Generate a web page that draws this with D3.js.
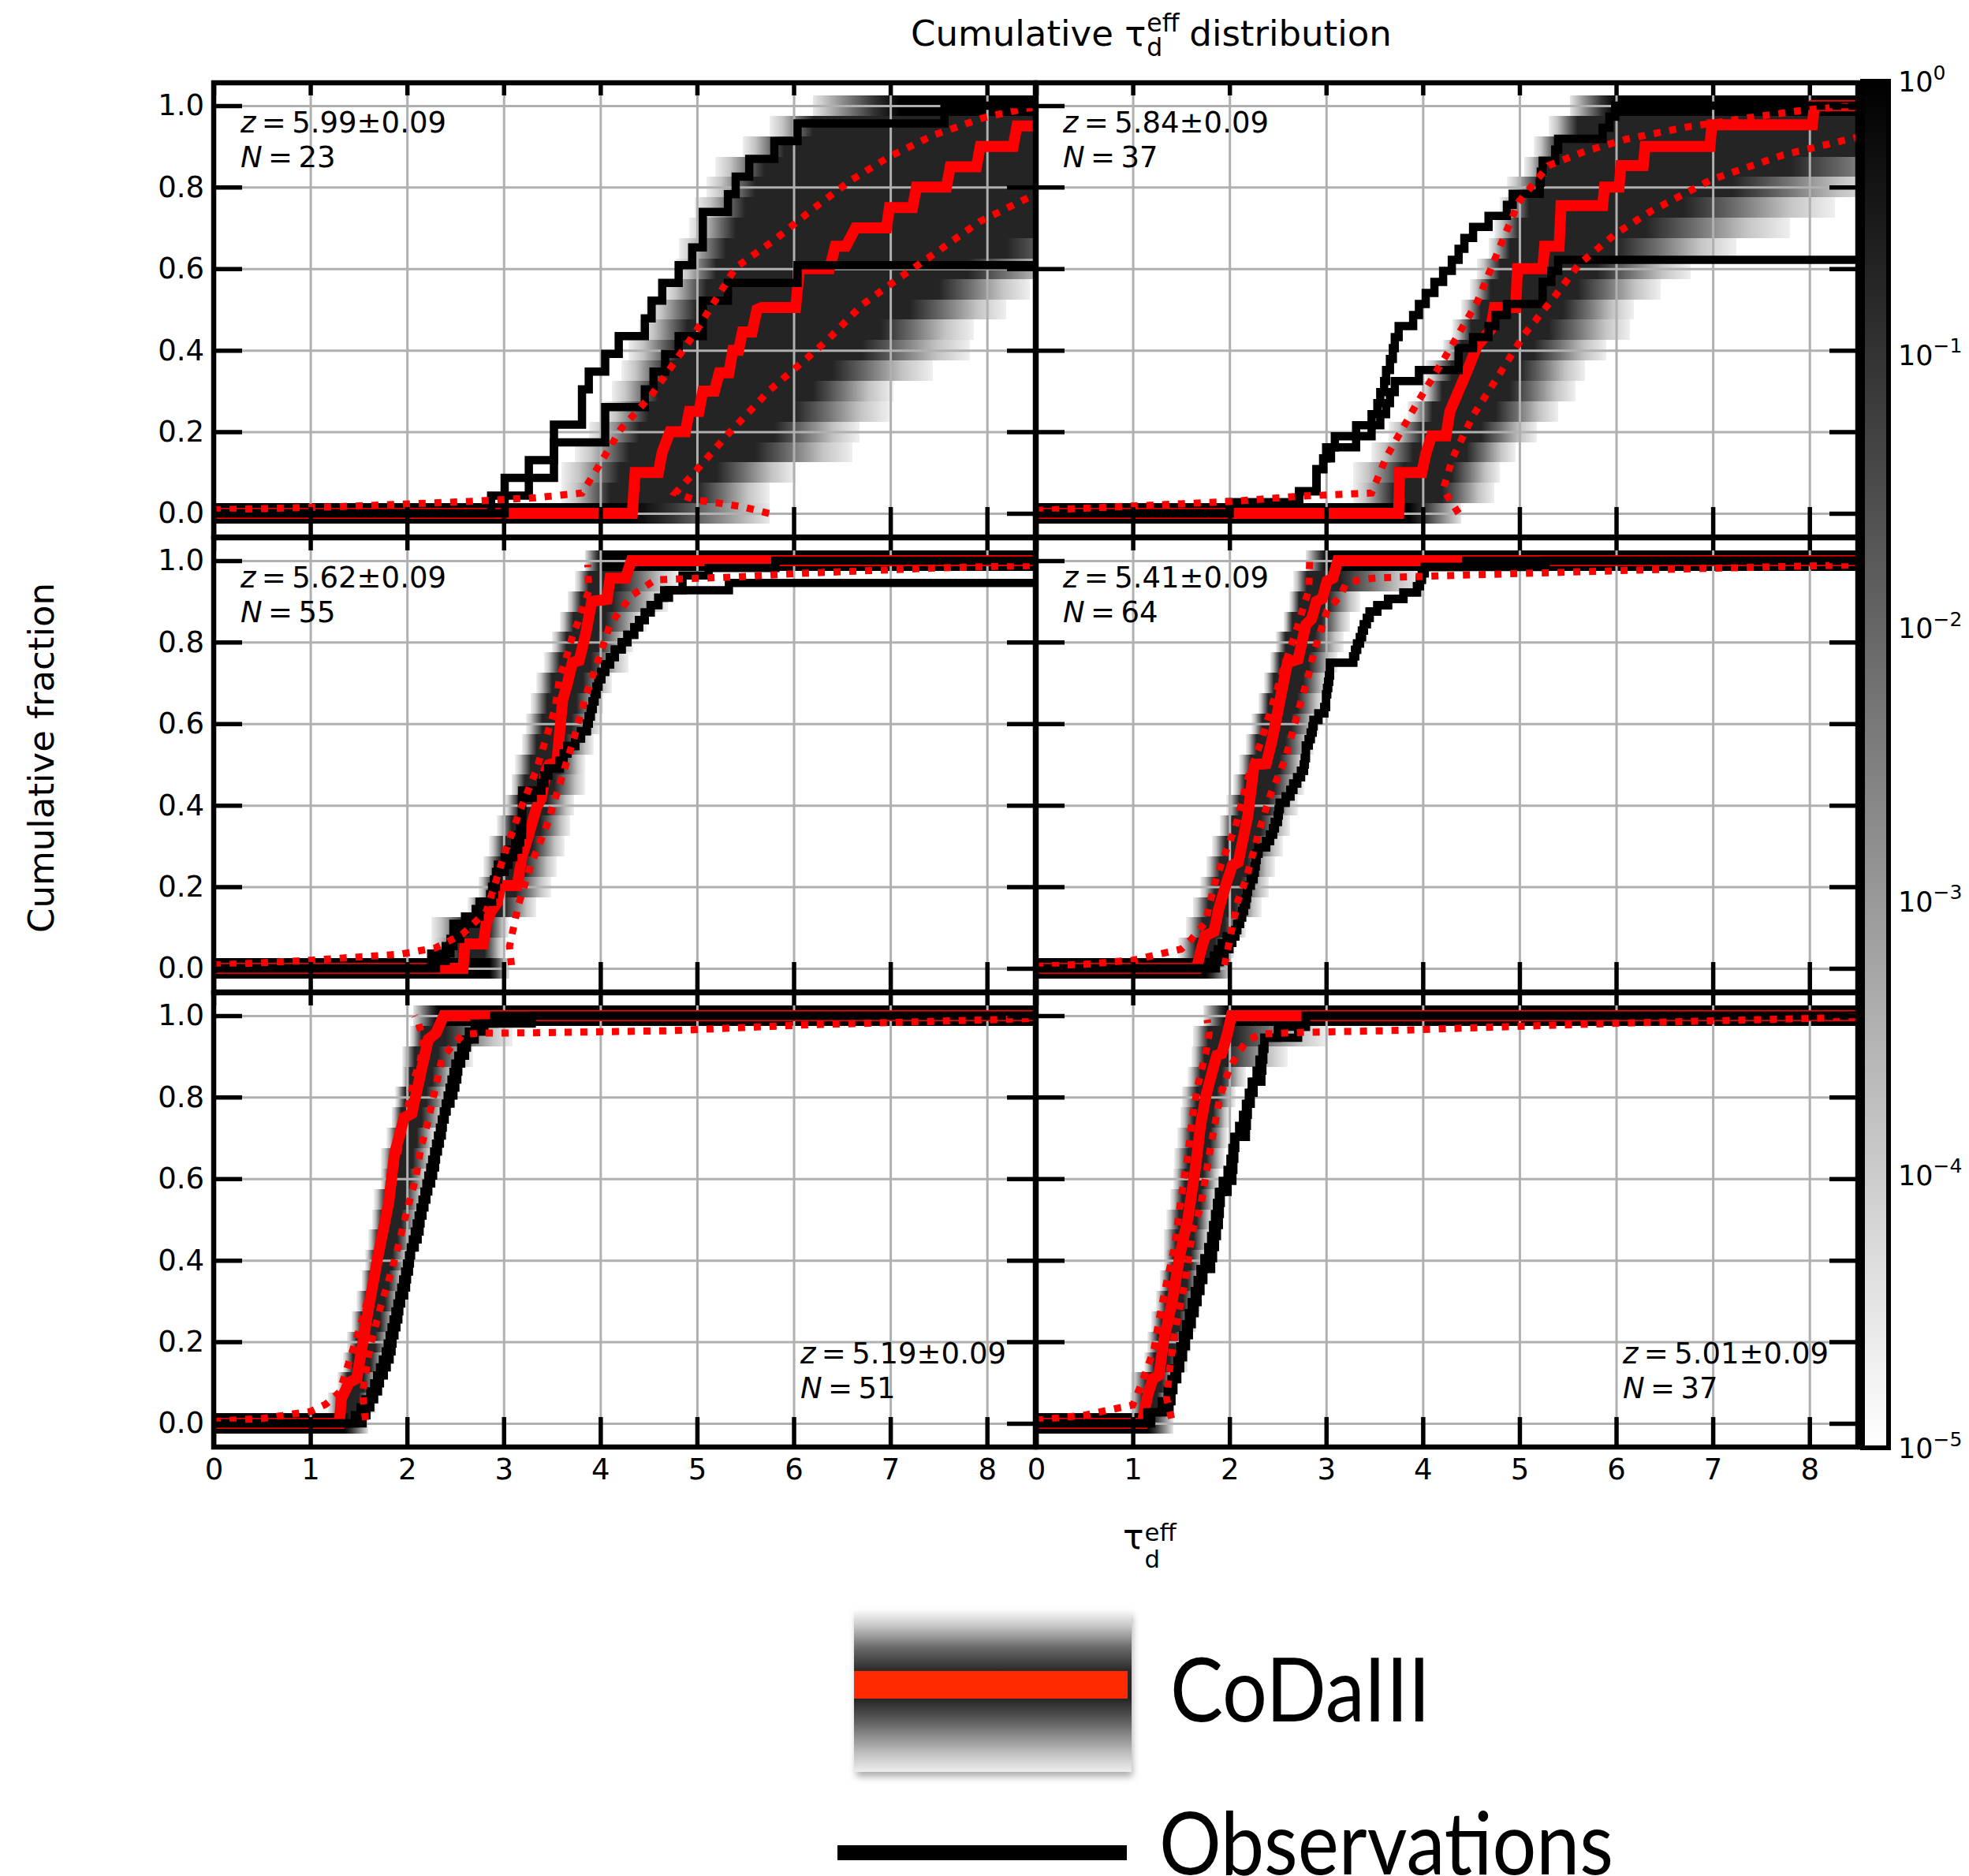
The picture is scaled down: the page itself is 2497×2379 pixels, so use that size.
<!DOCTYPE html>
<html>
<head>
<meta charset="utf-8">
<script src="https://cdn.jsdelivr.net/npm/d3@7"></script>
<style>
  body { margin: 0; background: #fff; }
  svg text { font-family: "DejaVu Sans"; fill: #000; }
</style>
</head>
<body>
<svg id="fig" width="2497" height="2379"></svg>
<script>
// ---- data ----
var xTicks = [0, 1, 2, 3, 4, 5, 6, 7, 8];
var yTicks = [0, 0.2, 0.4, 0.6, 0.8, 1.0];
var rowLevels = [0.05, 0.10, 0.15, 0.20, 0.25, 0.30, 0.35, 0.40, 0.45, 0.50,
                 0.55, 0.60, 0.65, 0.70, 0.75, 0.80, 0.85, 0.90, 0.95];
var cbTicks = [1, 1e-1, 1e-2, 1e-3, 1e-4, 1e-5];
var cbExponents = ["0", "\u22121", "\u22122", "\u22123", "\u22124", "\u22125"];
var panelZ = ["5.99", "5.84", "5.62", "5.41", "5.19", "5.01"];
var panelN = [23, 37, 55, 64, 51, 37];

// panel 1  z=5.99
var p1ObsA = [2.87, 3.01, 3.26, 3.52, 3.52, 3.81, 3.81, 3.88, 4.05, 4.19, 4.46, 4.53, 4.64, 4.81, 4.95, 5.06, 5.06, 5.32, 5.40, 5.54, 5.80, 6.04, 7.56];
var p1ObsB = [3.01, 3.26, 3.52, 3.52, 4.05, 4.05, 4.46, 4.55, 4.67, 4.81, 5.06, 5.06, 5.32, 6.04];
var p1Median = [[-0.1,0],[4.33,0],[4.36,0.10],[4.60,0.10],[4.64,0.15],[4.72,0.20],[4.88,0.20],[4.92,0.25],[5.02,0.25],[5.06,0.30],[5.18,0.30],[5.23,0.345],[5.33,0.345],[5.37,0.40],[5.43,0.40],[5.47,0.445],[5.57,0.445],[5.62,0.50],[5.67,0.505],[6.02,0.505],[6.06,0.60],[6.37,0.60],[6.43,0.655],[6.54,0.655],[6.64,0.70],[6.96,0.70],[6.99,0.75],[7.23,0.75],[7.27,0.80],[7.58,0.80],[7.62,0.85],[7.89,0.85],[7.93,0.90],[8.27,0.90],[8.31,0.95],[8.6,0.95]];
var p1DotA = [[0,0.009],[1.25,0.016],[2.63,0.029],[3.32,0.038],[3.81,0.05],[3.97,0.111],[4.21,0.206],[4.535,0.292],[4.98,0.443],[5.40,0.603],[5.81,0.672],[6.19,0.745],[6.58,0.815],[6.99,0.875],[7.44,0.927],[7.96,0.970],[8.37,0.992],[8.5,0.996]];
var p1DotB = [[5.745,0.0],[5.47,0.016],[5.23,0.025],[4.98,0.033],[4.777,0.05],[4.98,0.102],[5.30,0.189],[5.54,0.249],[5.745,0.301],[6.13,0.379],[6.37,0.43],[6.71,0.512],[7.09,0.577],[7.51,0.646],[7.92,0.715],[8.44,0.776],[8.5,0.782]];
var p1Rows = [[3.60,4.1,5.0,5.75],[3.60,4.2,5.2,6.02],[3.74,4.3,5.6,6.61],[3.88,4.4,5.8,6.68],[4.02,4.5,6.0,6.99],[4.12,4.6,6.2,7.03],[4.22,4.7,6.4,7.44],[4.29,4.8,6.7,7.82],[4.40,4.9,6.9,7.86],[4.47,5.0,7.2,8.20],[4.64,5.1,7.5,8.44],[4.78,5.2,7.8,8.9],[4.81,5.3,8.2,9.4],[4.92,5.4,8.6,9.8],[4.98,5.5,9,10],[5.10,5.6,9,10],[5.19,5.7,9,10],[5.47,5.9,9,10],[5.75,6.2,9,10]];
var p1Floor = [4.3, 5.75];
var p1Ceil = [6.2, 7.1];

// panel 2  z=5.84
var p2ObsA = [2.00, 2.72, 2.90, 2.90, 2.97, 3.05, 3.09, 3.31, 3.47, 3.53, 3.56, 3.60, 3.62, 3.66, 3.69, 3.71, 3.75, 3.90, 3.96, 4.03, 4.12, 4.21, 4.30, 4.37, 4.43, 4.52, 4.68, 4.87, 4.93, 5.21, 5.22, 5.24, 5.37, 5.40, 5.86, 5.93, 5.99];
var p2ObsB = [2.00, 2.72, 2.90, 2.90, 2.97, 3.00, 3.31, 3.47, 3.56, 3.62, 3.66, 3.71, 3.96, 4.37, 4.37, 4.52, 4.68, 4.75, 4.87, 5.24, 5.24, 5.33, 5.40];
var p2Median = [[-0.1,0],[3.75,0],[3.76,0.10],[3.99,0.10],[4.03,0.145],[4.09,0.19],[4.24,0.19],[4.28,0.25],[4.37,0.30],[4.46,0.35],[4.56,0.41],[4.70,0.45],[4.74,0.505],[4.96,0.505],[4.98,0.60],[5.24,0.60],[5.26,0.655],[5.41,0.655],[5.43,0.755],[5.86,0.755],[5.88,0.80],[6.03,0.80],[6.05,0.853],[6.28,0.853],[6.30,0.90],[6.97,0.90],[6.99,0.953],[8.03,0.953],[8.05,1.0],[8.6,1.0]];
var p2DotA = [[0,0.007],[2.00,0.029],[2.72,0.042],[3.47,0.05],[3.62,0.137],[3.93,0.266],[4.24,0.387],[4.56,0.517],[4.80,0.655],[4.99,0.763],[5.30,0.853],[5.68,0.888],[6.11,0.918],[6.74,0.948],[7.36,0.97],[7.98,0.99],[8.5,1.0]];
var p2DotB = [[4.37,0.0],[4.21,0.059],[4.31,0.137],[4.52,0.24],[4.80,0.344],[5.05,0.439],[5.37,0.534],[5.62,0.612],[5.99,0.685],[6.36,0.741],[6.99,0.819],[7.73,0.879],[8.5,0.923]];
var p2Rows = [[3.28,3.7,4.2,4.74],[3.28,3.8,4.3,4.80],[3.47,3.9,4.45,4.96],[3.65,4.0,4.6,5.18],[3.84,4.1,4.75,5.40],[3.99,4.2,4.9,5.58],[4.03,4.3,5.0,5.68],[4.21,4.4,5.15,5.90],[4.31,4.5,5.3,6.14],[4.40,4.6,5.45,6.18],[4.49,4.7,5.6,6.46],[4.56,4.8,5.8,6.77],[4.68,4.9,6.0,7.24],[4.74,5.0,6.3,7.80],[4.80,5.1,6.7,8.26],[4.87,5.2,7.2,8.8],[5.05,5.3,7.8,9.5],[5.15,5.4,8.5,10],[5.30,5.6,9,10]];
var p2Floor = [3.85, 4.4];
var p2Ceil = [5.52, 5.99];

// panel 3  z=5.62
var p3ObsA = [2.25, 2.25, 2.40, 2.45, 2.48, 2.48, 2.60, 2.71, 2.75, 2.86, 2.88, 2.90, 2.92, 2.94, 3.01, 3.05, 3.12, 3.15, 3.17, 3.19, 3.19, 3.19, 3.19, 3.19, 3.39, 3.42, 3.46, 3.58, 3.62, 3.66, 3.74, 3.80, 3.86, 3.88, 3.90, 3.92, 3.94, 3.96, 3.98, 4.01, 4.05, 4.10, 4.15, 4.22, 4.28, 4.35, 4.40, 4.46, 4.52, 4.60, 4.66, 4.85, 4.85, 5.12, 5.81];
var p3ObsB = [2.30, 2.40, 2.45, 2.48, 2.55, 2.60, 2.71, 2.75, 2.80, 2.88, 2.90, 2.92, 2.94, 3.01, 3.05, 3.10, 3.15, 3.17, 3.19, 3.19, 3.19, 3.19, 3.19, 3.30, 3.39, 3.42, 3.46, 3.58, 3.62, 3.66, 3.74, 3.80, 3.86, 3.88, 3.90, 3.92, 3.94, 3.96, 3.98, 4.01, 4.05, 4.10, 4.15, 4.22, 4.28, 4.35, 4.40, 4.46, 4.52, 4.60, 4.71, 5.33];
var p3Median = [[-0.1,0],[2.58,0],[2.60,0.06],[2.79,0.06],[2.82,0.11],[2.87,0.14],[2.93,0.16],[2.97,0.203],[3.14,0.203],[3.19,0.275],[3.25,0.32],[3.34,0.395],[3.39,0.417],[3.44,0.488],[3.47,0.50],[3.55,0.505],[3.61,0.658],[3.66,0.70],[3.71,0.75],[3.78,0.755],[3.85,0.822],[3.91,0.90],[4.07,0.905],[4.10,0.957],[4.26,0.957],[4.32,1.0],[8.6,1.0]];
var p3DotA = [[0,0.008],[1.01,0.02],[1.94,0.035],[2.29,0.05],[2.57,0.083],[2.82,0.14],[3.01,0.282],[3.17,0.388],[3.34,0.488],[3.44,0.566],[3.53,0.637],[3.58,0.715],[3.66,0.772],[3.72,0.822],[3.77,0.85],[3.83,0.893],[3.88,0.925],[3.87,0.99]];
var p3DotB = [[3.08,0.008],[3.06,0.054],[3.15,0.154],[3.28,0.253],[3.45,0.353],[3.58,0.452],[3.72,0.559],[3.85,0.669],[3.96,0.744],[4.10,0.843],[4.21,0.879],[4.32,0.914],[4.57,0.953],[5.40,0.960],[6.09,0.969],[7.47,0.982],[8.5,0.988]];
var p3Rows = [[2.25,2.55,2.8,3.01],[2.25,2.6,2.85,3.05],[2.63,2.78,3.0,3.34],[2.74,2.88,3.12,3.49],[2.79,2.95,3.22,3.55],[2.85,3.0,3.3,3.63],[2.93,3.08,3.38,3.69],[3.01,3.15,3.45,3.73],[3.08,3.22,3.52,3.84],[3.12,3.28,3.58,3.84],[3.19,3.34,3.64,3.93],[3.23,3.40,3.70,4.00],[3.28,3.45,3.75,4.03],[3.34,3.50,3.82,4.12],[3.42,3.58,3.90,4.29],[3.50,3.65,3.97,4.34],[3.58,3.72,4.05,4.48],[3.66,3.80,4.12,4.70],[3.74,3.88,4.20,4.80]];
var p3Floor = [2.85, 3.06];
var p3Ceil = [3.84, 4.02];

// panel 4  z=5.41
var p4ObsA = [1.80, 1.84, 1.88, 1.92, 1.97, 2.06, 2.08, 2.11, 2.13, 2.15, 2.17, 2.18, 2.19, 2.22, 2.25, 2.26, 2.27, 2.28, 2.30, 2.38, 2.42, 2.45, 2.47, 2.50, 2.51, 2.52, 2.58, 2.63, 2.66, 2.70, 2.74, 2.77, 2.78, 2.79, 2.79, 2.82, 2.84, 2.86, 2.87, 2.92, 2.98, 3.00, 3.00, 3.01, 3.02, 3.03, 3.04, 3.04, 3.28, 3.30, 3.32, 3.35, 3.37, 3.39, 3.42, 3.45, 3.53, 3.64, 3.80, 3.94, 3.97, 3.99, 4.02, 4.45];
var p4ObsB = [1.86, 1.90, 1.95, 2.00, 2.03, 2.06, 2.08, 2.11, 2.13, 2.15, 2.17, 2.18, 2.19, 2.22, 2.25, 2.26, 2.27, 2.28, 2.30, 2.38, 2.42, 2.45, 2.47, 2.50, 2.51, 2.52, 2.58, 2.63, 2.66, 2.70, 2.74, 2.77, 2.78, 2.79, 2.79, 2.82, 2.84, 2.86, 2.87, 2.92, 2.98, 3.00, 3.00, 3.01, 3.02, 3.03, 3.04, 3.04, 3.28, 3.30, 3.32, 3.35, 3.37, 3.39, 3.42, 3.45, 3.53, 3.64, 3.80, 3.94, 3.97, 3.99, 4.02, 5.27];
var p4Median = [[-0.1,0],[1.66,0],[1.70,0.04],[1.75,0.08],[1.84,0.09],[1.89,0.147],[1.98,0.218],[2.03,0.253],[2.09,0.26],[2.14,0.317],[2.19,0.374],[2.25,0.49],[2.27,0.50],[2.38,0.502],[2.44,0.559],[2.60,0.75],[2.71,0.758],[2.79,0.843],[2.85,0.857],[2.90,0.90],[2.96,0.907],[3.01,0.95],[3.07,0.957],[3.12,1.0],[8.6,1.0]];
var p4DotA = [[0,0.005],[0.5,0.01],[1.0,0.02],[1.5,0.047],[1.60,0.07],[1.75,0.112],[1.84,0.203],[1.95,0.28],[2.06,0.345],[2.19,0.466],[2.33,0.559],[2.55,0.729],[2.71,0.843],[2.82,0.928],[2.83,1.0]];
var p4DotB = [[1.95,0.008],[2.00,0.068],[2.09,0.168],[2.17,0.218],[2.30,0.331],[2.41,0.417],[2.58,0.516],[2.71,0.63],[2.82,0.722],[2.87,0.772],[3.01,0.878],[3.15,0.914],[3.20,0.942],[3.34,0.953],[3.53,0.958],[4.49,0.965],[6.11,0.976],[8.5,0.99]];
var p4Rows = [[1.47,1.65,1.85,2.05],[1.55,1.72,1.95,2.17],[1.62,1.78,2.05,2.33],[1.70,1.85,2.12,2.41],[1.76,1.90,2.18,2.47],[1.82,1.96,2.25,2.55],[1.90,2.03,2.32,2.63],[1.97,2.10,2.40,2.71],[2.04,2.16,2.46,2.77],[2.10,2.22,2.52,2.80],[2.17,2.28,2.58,2.87],[2.23,2.34,2.64,2.93],[2.30,2.40,2.70,2.98],[2.36,2.46,2.76,3.04],[2.42,2.52,2.82,3.12],[2.48,2.58,2.88,3.18],[2.56,2.65,2.95,3.25],[2.62,2.72,3.02,3.35],[2.66,2.80,3.15,4.00]];
var p4Floor = [1.75, 2.02];
var p4Ceil = [2.79, 3.01];

// panel 5  z=5.19
var p5ObsA = [1.46, 1.52, 1.57, 1.62, 1.66, 1.69, 1.72, 1.75, 1.78, 1.80, 1.82, 1.84, 1.86, 1.88, 1.90, 1.92, 1.94, 1.96, 1.98, 2.00, 2.02, 2.04, 2.06, 2.08, 2.10, 2.12, 2.14, 2.16, 2.18, 2.20, 2.22, 2.24, 2.26, 2.28, 2.30, 2.32, 2.34, 2.36, 2.38, 2.40, 2.42, 2.44, 2.46, 2.48, 2.50, 2.53, 2.56, 2.60, 2.64, 2.70, 2.90];
var p5ObsB = [1.54, 1.58, 1.62, 1.66, 1.70, 1.72, 1.76, 1.79, 1.82, 1.84, 1.85, 1.87, 1.89, 1.91, 1.92, 1.94, 1.97, 1.99, 2.00, 2.02, 2.03, 2.04, 2.08, 2.11, 2.13, 2.14, 2.16, 2.18, 2.20, 2.22, 2.25, 2.27, 2.29, 2.30, 2.32, 2.34, 2.36, 2.37, 2.39, 2.41, 2.45, 2.48, 2.50, 2.52, 2.53, 2.56, 2.60, 2.62, 2.70, 2.80, 3.29];
var p5Median = [[-0.1,0],[1.30,0],[1.32,0.06],[1.40,0.10],[1.48,0.11],[1.60,0.28],[1.70,0.41],[1.81,0.54],[1.87,0.66],[1.97,0.75],[2.05,0.76],[2.14,0.857],[2.22,0.942],[2.30,0.957],[2.38,1.0],[8.6,1.0]];
var p5DotA = [[0,0.005],[0.5,0.012],[1.0,0.029],[1.16,0.047],[1.30,0.076],[1.49,0.218],[1.68,0.374],[1.81,0.559],[1.98,0.744],[2.08,0.85],[2.14,0.893],[2.17,0.94],[2.12,0.98],[2.08,1.0]];
var p5DotB = [[1.57,0.008],[1.54,0.076],[1.62,0.19],[1.73,0.289],[1.84,0.374],[1.92,0.445],[2.00,0.523],[2.09,0.601],[2.14,0.672],[2.22,0.744],[2.30,0.829],[2.36,0.893],[2.47,0.928],[2.58,0.953],[2.74,0.957],[3.32,0.958],[4.71,0.963],[6.09,0.977],[8.5,0.993]];
var p5Rows = [[1.18,1.32,1.50,1.68],[1.28,1.38,1.55,1.72],[1.34,1.44,1.62,1.79],[1.38,1.48,1.67,1.85],[1.43,1.53,1.72,1.90],[1.48,1.58,1.77,1.95],[1.53,1.62,1.81,1.98],[1.57,1.66,1.85,2.03],[1.60,1.70,1.90,2.09],[1.64,1.74,1.94,2.17],[1.66,1.78,1.98,2.19],[1.73,1.82,2.02,2.22],[1.73,1.86,2.06,2.28],[1.79,1.90,2.10,2.30],[1.84,1.94,2.15,2.41],[1.88,1.98,2.20,2.47],[1.95,2.03,2.26,2.52],[1.95,2.08,2.32,2.68],[2.03,2.15,2.40,3.09]];
var p5Floor = [1.35, 1.60];
var p5Ceil = [2.06, 2.33];

// panel 6  z=5.01
var p6ObsA = [1.15, 1.30, 1.36, 1.40, 1.43, 1.46, 1.49, 1.52, 1.55, 1.58, 1.61, 1.64, 1.67, 1.70, 1.74, 1.78, 1.81, 1.83, 1.85, 1.87, 1.89, 1.93, 1.98, 2.01, 2.03, 2.05, 2.10, 2.14, 2.17, 2.20, 2.23, 2.28, 2.31, 2.34, 2.36, 2.50, 2.79];
var p6ObsB = [1.19, 1.38, 1.40, 1.42, 1.46, 1.49, 1.52, 1.55, 1.58, 1.61, 1.64, 1.67, 1.70, 1.73, 1.81, 1.83, 1.85, 1.87, 1.89, 1.90, 1.91, 1.98, 2.03, 2.04, 2.05, 2.06, 2.17, 2.18, 2.19, 2.22, 2.25, 2.33, 2.34, 2.35, 2.36, 2.71, 2.79];
var p6Median = [[-0.1,0],[1.10,0],[1.12,0.03],[1.16,0.075],[1.21,0.11],[1.27,0.118],[1.32,0.203],[1.41,0.303],[1.49,0.417],[1.57,0.502],[1.65,0.63],[1.70,0.73],[1.76,0.807],[1.84,0.878],[1.87,0.903],[1.92,0.907],[1.98,0.957],[2.02,1.0],[8.6,1.0]];
var p6DotA = [[0,0.008],[0.5,0.02],[1.0,0.045],[1.11,0.11],[1.22,0.182],[1.27,0.253],[1.35,0.346],[1.43,0.431],[1.49,0.537],[1.57,0.658],[1.62,0.758],[1.68,0.836],[1.76,0.914],[1.79,0.957],[1.77,0.99]];
var p6DotB = [[1.40,0.012],[1.35,0.061],[1.38,0.13],[1.43,0.218],[1.54,0.346],[1.62,0.473],[1.70,0.53],[1.79,0.658],[1.90,0.80],[2.00,0.871],[2.09,0.907],[2.18,0.939],[2.33,0.955],[2.75,0.959],[3.62,0.963],[4.87,0.973],[6.11,0.982],[8.5,0.996]];
var p6Rows = [[0.97,1.10,1.25,1.40],[0.98,1.14,1.30,1.45],[1.12,1.22,1.38,1.57],[1.15,1.26,1.43,1.60],[1.19,1.30,1.48,1.66],[1.24,1.34,1.52,1.70],[1.28,1.38,1.56,1.73],[1.32,1.42,1.60,1.76],[1.32,1.45,1.63,1.80],[1.35,1.48,1.66,1.83],[1.39,1.51,1.70,1.87],[1.42,1.54,1.73,1.90],[1.43,1.57,1.76,1.95],[1.46,1.60,1.80,1.98],[1.49,1.63,1.83,2.00],[1.51,1.66,1.87,2.06],[1.57,1.70,1.92,2.17],[1.61,1.74,1.98,2.60],[1.62,1.78,2.05,3.01]];
var p6Floor = [1.15, 1.42];
var p6Ceil = [1.73, 1.98];

// ---- layout ----
var W = 1042, H = 576;
var colX = [271, 1314];
var rowY = [105, 682, 1259];

var panels = [
  {col:0, row:0, obsA:p1ObsA, obsB:p1ObsB, median:p1Median, dotA:p1DotA, dotB:p1DotB, rows:p1Rows, floor:p1Floor, ceil:p1Ceil},
  {col:1, row:0, obsA:p2ObsA, obsB:p2ObsB, median:p2Median, dotA:p2DotA, dotB:p2DotB, rows:p2Rows, floor:p2Floor, ceil:p2Ceil},
  {col:0, row:1, obsA:p3ObsA, obsB:p3ObsB, median:p3Median, dotA:p3DotA, dotB:p3DotB, rows:p3Rows, floor:p3Floor, ceil:p3Ceil},
  {col:1, row:1, obsA:p4ObsA, obsB:p4ObsB, median:p4Median, dotA:p4DotA, dotB:p4DotB, rows:p4Rows, floor:p4Floor, ceil:p4Ceil},
  {col:0, row:2, obsA:p5ObsA, obsB:p5ObsB, median:p5Median, dotA:p5DotA, dotB:p5DotB, rows:p5Rows, floor:p5Floor, ceil:p5Ceil},
  {col:1, row:2, obsA:p6ObsA, obsB:p6ObsB, median:p6Median, dotA:p6DotA, dotB:p6DotB, rows:p6Rows, floor:p6Floor, ceil:p6Ceil}
];

var x = d3.scaleLinear().domain([0, 8.5]).range([0, W]);
var y = d3.scaleLinear().domain([-0.058, 1.056]).range([H, 0]);
var binHalf = 0.025;

var svg = d3.select('#fig');
svg.append('rect').attr('width', 2497).attr('height', 2379).attr('fill', '#fff');
var defs = svg.append('defs');

// vertical gradients run from the bottom (offset 0) to the top (offset 1)
function addGradient(id, stops, vertical) {
  var gr = defs.append('linearGradient').attr('id', id)
    .attr('x1', 0).attr('y1', vertical ? 1 : 0).attr('x2', vertical ? 0 : 1).attr('y2', 0);
  stops.forEach(function(s){
    gr.append('stop').attr('offset', s[0]).attr('stop-color', s[1]);
  });
}
addGradient('fadeIn', [[0,'#efefef'],[0.3,'#c4c4c4'],[0.65,'#707070'],[1,'#242424']]);
addGradient('fadeOut', [[0,'#242424'],[0.35,'#707070'],[0.7,'#c4c4c4'],[1,'#efefef']]);
addGradient('floorFade', [[0,'#000'],[0.3,'#333'],[0.65,'#8a8a8a'],[1,'#e8e8e8']]);
addGradient('ceilFade', [[0,'#e8e8e8'],[0.35,'#8a8a8a'],[0.7,'#333'],[1,'#000']]);

var grayRamp = d3.interpolateRgb('#ffffff', '#000000');
addGradient('cbGrad', d3.range(0, 1.0001, 0.1).map(function(t){ return [t, grayRamp(t)]; }), true);

var lineXY = d3.line().x(function(d){ return x(d[0]); }).y(function(d){ return y(d[1]); });
var stepXY = d3.line().x(function(d){ return x(d[0]); }).y(function(d){ return y(d[1]); }).curve(d3.curveStepAfter);

function stepPoints(xs, n) {
  var pts = [[-0.1, 0]];
  xs.forEach(function(v, i){ pts.push([v, (i + 1) / n]); });
  pts.push([8.7, xs.length / n]);
  return pts;
}

function band(sel, x0, x1, yc, fill) {
  sel.append('rect')
    .attr('x', x(x0)).attr('width', Math.max(0, x(x1) - x(x0)))
    .attr('y', y(yc + binHalf)).attr('height', y(yc - binHalf) - y(yc + binHalf))
    .attr('fill', fill).attr('shape-rendering', 'crispEdges');
}

function styleTicks(sel) {
  sel.attr('font-family', 'DejaVu Sans').attr('font-size', 37);
  sel.select('.domain').remove();
  sel.selectAll('.tick line').attr('stroke', '#000').attr('stroke-width', 5.5);
  sel.selectAll('.tick text').attr('fill', '#000');
}
function styleGrid(sel) {
  sel.select('.domain').remove();
  sel.selectAll('.tick line').attr('stroke', '#b0b0b0').attr('stroke-width', 3);
}

panels.forEach(function(p, i){
  var g = svg.append('g').attr('transform', 'translate(' + colX[p.col] + ',' + rowY[p.row] + ')');
  defs.append('clipPath').attr('id', 'clip' + i)
    .append('rect').attr('width', W).attr('height', H);
  var plot = g.append('g').attr('clip-path', 'url(#clip' + i + ')');

  // 2D histogram of model CDFs
  var hm = plot.append('g');
  band(hm, -0.2, p.floor[0], 0, '#000');
  band(hm, p.floor[0], p.floor[1], 0, 'url(#floorFade)');
  p.rows.forEach(function(r, k){
    var yc = rowLevels[k];
    band(hm, r[0], r[1], yc, 'url(#fadeIn)');
    band(hm, r[1], r[2], yc, '#242424');
    band(hm, r[2], r[3], yc, 'url(#fadeOut)');
  });
  band(hm, p.ceil[0], p.ceil[1], 1, 'url(#ceilFade)');
  band(hm, p.ceil[1], 8.8, 1, '#000');

  // grid
  plot.append('g').attr('transform', 'translate(0,' + H + ')')
    .call(d3.axisBottom(x).tickValues(xTicks.slice(1)).tickSize(-H).tickFormat(''))
    .call(styleGrid);
  plot.append('g')
    .call(d3.axisLeft(y).tickValues(yTicks).tickSize(-W).tickFormat(''))
    .call(styleGrid);

  plot.append('path').datum(p.median).attr('d', lineXY)
    .attr('fill', 'none').attr('stroke', '#ff0000').attr('stroke-width', 14)
    .attr('stroke-linejoin', 'miter');

  [p.obsB, p.obsA].forEach(function(xs){
    plot.append('path').datum(stepPoints(xs, panelN[i])).attr('d', stepXY)
      .attr('fill', 'none').attr('stroke', '#000').attr('stroke-width', 10.5)
      .attr('stroke-linejoin', 'miter');
  });

  [p.dotA, p.dotB].forEach(function(d){
    plot.append('path').datum(d).attr('d', lineXY)
      .attr('fill', 'none').attr('stroke', '#ff0000').attr('stroke-width', 9)
      .attr('stroke-dasharray', '9,11');
  });

  // ticks pointing inward on all four sides
  g.append('g').attr('transform', 'translate(0,' + H + ')')
    .call(d3.axisBottom(x).tickValues(xTicks).tickSize(-38).tickPadding(15)
      .tickFormat(p.row === 2 ? d3.format('d') : ''))
    .call(styleTicks);
  g.append('g')
    .call(d3.axisTop(x).tickValues(xTicks).tickSize(-16).tickFormat(''))
    .call(styleTicks);
  g.append('g')
    .call(d3.axisLeft(y).tickValues(yTicks).tickSize(-36).tickPadding(12)
      .tickFormat(p.col === 0 ? d3.format('.1f') : ''))
    .call(styleTicks);
  g.append('g').attr('transform', 'translate(' + W + ',0)')
    .call(d3.axisRight(y).tickValues(yTicks).tickSize(-36).tickFormat(''))
    .call(styleTicks);

  g.append('rect').attr('width', W).attr('height', H)
    .attr('fill', 'none').attr('stroke', '#000').attr('stroke-width', 6.5);

  // z and N annotation
  var lx = p.row === 2 ? 744 : 34;
  var ly = p.row === 2 ? H - 106 : 63;
  var t1 = g.append('text').attr('x', lx).attr('y', ly).attr('font-size', 37);
  t1.append('tspan').attr('font-style', 'italic').text('z');
  t1.append('tspan').text('\u2009=\u20095' + panelZ[i].slice(1) + '\u00b10.09');
  var t2 = g.append('text').attr('x', lx).attr('y', ly + 44).attr('font-size', 37);
  t2.append('tspan').attr('font-style', 'italic').text('N');
  t2.append('tspan').text('\u2009=\u2009' + panelN[i]);
});

// colorbar
var cb = d3.scaleLog().domain([1e-5, 1]).range([1836, 103]);
svg.append('rect').attr('x', 2362).attr('y', 103).attr('width', 33).attr('height', 1733)
  .attr('fill', 'url(#cbGrad)').attr('stroke', '#000').attr('stroke-width', 6);
var cbAxis = svg.append('g').attr('transform', 'translate(2395,0)')
  .call(d3.axisRight(cb).tickValues(cbTicks).tickSize(0).tickPadding(12).tickFormat(function(){ return ''; }));
cbAxis.select('.domain').remove();
cbAxis.selectAll('.tick text').each(function(d, k){
  var t = d3.select(this).attr('font-family', 'DejaVu Sans').attr('font-size', 35).attr('dy', '0.36em');
  t.append('tspan').text('10');
  t.append('tspan').attr('dy', '-0.62em').attr('font-size', 25).text(cbExponents[k]);
});

// title and axis labels with tau_d^eff
function tauLabel(x0, base, fs, pre, post, supRise, subDrop) {
  var g = svg.append('g');
  var t = g.append('text').attr('x', x0).attr('y', base).attr('font-size', fs).text(pre + '\u03c4');
  var w = t.node().getComputedTextLength();
  var sup = g.append('text').attr('x', x0 + w + 1).attr('y', base - supRise).attr('font-size', fs * 0.7).text('eff');
  g.append('text').attr('x', x0 + w + 1).attr('y', base + subDrop).attr('font-size', fs * 0.7).text('d');
  if (post) {
    var ws = sup.node().getComputedTextLength();
    g.append('text').attr('x', x0 + w + ws + 14).attr('y', base).attr('font-size', fs).text(post);
  }
}
tauLabel(1155, 58, 45, 'Cumulative ', 'distribution', 18, 13);
tauLabel(1424, 1964, 44, '', null, 10, 24);

svg.append('text').attr('transform', 'translate(68,961) rotate(-90)')
  .attr('text-anchor', 'middle').attr('font-size', 45).text('Cumulative fraction');

// legend
addGradient('legendGrad', [[0,'#eeeeee'],[0.12,'#bdbdbd'],[0.32,'#5a5a5a'],[0.45,'#242424'],[0.62,'#2a2a2a'],[0.76,'#6a6a6a'],[0.9,'#cacaca'],[1,'#ffffff']], true);
var blur = defs.append('filter').attr('id', 'shadow').attr('x', '-10%').attr('y', '-10%').attr('width', '120%').attr('height', '130%');
blur.append('feGaussianBlur').attr('stdDeviation', 5);
var leg = svg.append('g');
leg.append('rect').attr('x', 1086).attr('y', 2048).attr('width', 350).attr('height', 205)
  .attr('fill', '#aaa').attr('filter', 'url(#shadow)');
leg.append('rect').attr('x', 1083).attr('y', 2040).attr('width', 352).attr('height', 207)
  .attr('fill', 'url(#legendGrad)');
leg.append('rect').attr('x', 1083).attr('y', 2119).attr('width', 347).attr('height', 35).attr('fill', '#ff2a00');
leg.append('rect').attr('x', 1062).attr('y', 2340).attr('width', 367).attr('height', 19).attr('fill', '#000');
leg.append('text').attr('x', 1484).attr('y', 2183).attr('font-size', 112)
  .style('font-family', 'Lato').attr('textLength', 330).attr('lengthAdjust', 'spacingAndGlyphs').text('CoDaIII');
leg.append('text').attr('x', 1470).attr('y', 2377).attr('font-size', 110)
  .style('font-family', 'Lato').attr('textLength', 576).attr('lengthAdjust', 'spacingAndGlyphs').text('Observations');
</script>
</body>
</html>
